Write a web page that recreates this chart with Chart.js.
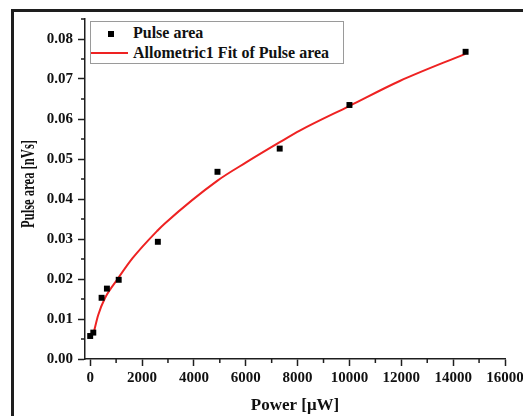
<!DOCTYPE html>
<html>
<head>
<meta charset="utf-8">
<script src="https://cdn.jsdelivr.net/npm/chart.js@4"></script>
<style>
  html, body { margin: 0; padding: 0; background: #fff; overflow: hidden; }
  body { width: 523px; height: 416px; position: relative; }
  #frame {
    position: absolute; left: 11px; top: 9px; width: 520px; height: 420px;
    border-top: 3px solid #1e1e1e; border-left: 3px solid #1e1e1e;
  }
  #wrap { position: absolute; left: 0; top: 0; width: 540px; height: 416px; }
  #legend {
    position: absolute; left: 90px; top: 21px; width: 252px; height: 41px;
    border: 1px solid #9a9a9a; background: #fff;
    font: bold 16px "Liberation Serif", "Times New Roman", serif; color: #111;
  }
  #legend .row { position: absolute; left: 0; height: 20px; line-height: 20px; }
  #legend .mark { position: absolute; left: 17px; top: 8px; width: 6px; height: 6px; background: #000; }
  #legend .line { position: absolute; left: 0; top: 9px; width: 37px; height: 2px; background: #ee2222; }
  #legend .txt { position: absolute; left: 42px; top: 0; white-space: nowrap; }
</style>
</head>
<body>
<div id="frame"></div>
<div id="wrap"><canvas id="chart" width="540" height="416"></canvas></div>
<div id="legend">
  <div class="row" style="top:1px"><span class="mark"></span><span class="txt">Pulse area</span></div>
  <div class="row" style="top:21px"><span class="line"></span><span class="txt">Allometric1 Fit of Pulse area</span></div>
</div>
<script>
const powerUW = [0, 120, 440, 645, 1100, 2610, 4910, 7310, 10000, 14480];
const pulseArea = [0.00575, 0.0066, 0.0153, 0.0176, 0.0198, 0.0293, 0.0468, 0.0526, 0.0635, 0.0768];

const fitPower = [143, 310, 567, 1080, 1634, 2610, 2880, 4911, 6030, 7313, 8084, 10012, 11940, 14470];
const fitArea = [0.0068, 0.0110, 0.0152, 0.0202, 0.0252, 0.0322, 0.0339, 0.0446, 0.0492, 0.0542, 0.0571, 0.0633, 0.0695, 0.0763];

// graduations
const xTicks = [0, 2000, 4000, 6000, 8000, 10000, 12000, 14000, 16000];
const yTicks = [0, 0.01, 0.02, 0.03, 0.04, 0.05, 0.06, 0.07, 0.08];
const xMinor = [1000, 3000, 5000, 7000, 9000, 11000, 13000, 15000];
const yMinor = [0.005, 0.015, 0.025, 0.035, 0.045, 0.055, 0.065, 0.075, 0.085];

const xMin = -200, xMax = 16000;
const yMin = 0, yMax = 0.085;

const AXIS = '#1e1e1e';
const FONT = '"Liberation Serif", "Times New Roman", serif';

// graduations mineures + titre de l'axe Y (texte un peu resserré comme l'original)
const extras = {
  id: 'extras',
  afterDraw(chart) {
    const ctx = chart.ctx;
    const xs = chart.scales.x, ys = chart.scales.y;
    ctx.save();
    ctx.strokeStyle = AXIS;
    ctx.lineWidth = 1.5;
    ctx.beginPath();
    xMinor.forEach(v => {
      const px = xs.getPixelForValue(v);
      ctx.moveTo(px, xs.top);
      ctx.lineTo(px, xs.top + 4);
    });
    yMinor.forEach(v => {
      const py = ys.getPixelForValue(v);
      ctx.moveTo(ys.right, py);
      ctx.lineTo(ys.right - 4, py);
    });
    ctx.stroke();

    const title = 'Pulse area [nVs]';
    ctx.font = 'bold 18px ' + FONT;
    ctx.fillStyle = '#111';
    ctx.textAlign = 'center';
    ctx.textBaseline = 'middle';
    const w = ctx.measureText(title).width;
    ctx.translate(29, 184);
    ctx.rotate(-Math.PI / 2);
    ctx.scale(88 / w, 1);
    ctx.fillText(title, 0, 0);
    ctx.restore();
  }
};

new Chart(document.getElementById('chart'), {
  type: 'scatter',
  data: {
    datasets: [
      {
        label: 'Pulse area',
        data: powerUW.map((p, i) => ({ x: p, y: pulseArea[i] })),
        pointStyle: 'rect',
        pointRadius: 4.2,
        pointHoverRadius: 4.2,
        backgroundColor: '#000',
        borderColor: '#000',
        borderWidth: 0
      },
      {
        label: 'Allometric1 Fit of Pulse area',
        data: fitPower.map((p, i) => ({ x: p, y: fitArea[i] })),
        showLine: true,
        borderColor: '#ee2222',
        borderWidth: 2,
        pointRadius: 0,
        cubicInterpolationMode: 'monotone',
        fill: false
      }
    ]
  },
  options: {
    responsive: false,
    animation: false,
    layout: { padding: { left: 0, top: 19, right: 35, bottom: 0 } },
    plugins: {
      legend: { display: false },
      tooltip: { enabled: false }
    },
    scales: {
      x: {
        type: 'linear',
        min: xMin,
        max: xMax,
        afterBuildTicks: s => { s.ticks = xTicks.map(v => ({ value: v })); },
        afterFit: s => { s.height = 57; },
        border: { color: AXIS, width: 1.5 },
        grid: { drawOnChartArea: false, drawTicks: true, tickLength: 7, tickColor: AXIS, tickWidth: 1.5 },
        ticks: {
          maxRotation: 0,
          autoSkip: false,
          padding: 3,
          color: '#111',
          font: { family: FONT, size: 15, weight: 'bold' },
          callback: v => String(v)
        },
        title: {
          display: true,
          text: 'Power [\u03bcW]',
          color: '#111',
          font: { family: FONT, size: 17, weight: 'bold' },
          padding: { top: 0, bottom: 0 }
        }
      },
      y: {
        type: 'linear',
        min: yMin,
        max: yMax,
        afterBuildTicks: s => { s.ticks = yTicks.map(v => ({ value: v })); },
        afterFit: s => { s.width = 85; },
        border: { color: AXIS, width: 1.5 },
        grid: { drawOnChartArea: false, drawTicks: true, tickLength: 7, tickColor: AXIS, tickWidth: 1.5 },
        ticks: {
          autoSkip: false,
          padding: 5,
          color: '#111',
          font: { family: FONT, size: 15, weight: 'bold' },
          callback: v => v.toFixed(2)
        }
      }
    }
  },
  plugins: [extras]
});
</script>
</body>
</html>
